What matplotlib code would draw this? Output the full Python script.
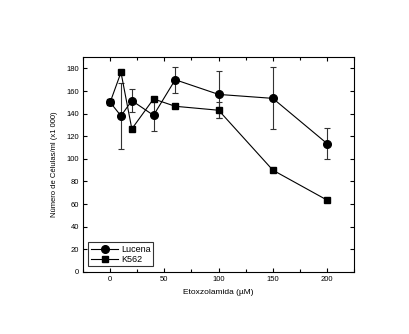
import matplotlib
matplotlib.use('Agg')
import matplotlib.pyplot as plt
from matplotlib.ticker import MultipleLocator

plt.rcParams['font.family'] = ['Liberation Sans', 'DejaVu Sans']

# concentrations (uM)
dose = [0, 10, 20, 40, 60, 100, 150, 200]

# cell counts (x1000)
lucena = [150, 138, 151.5, 138.5, 170, 157, 153.5, 113.5]
lucena_err = [0, 29, 10, 13.5, 11.5, 20.5, 27.5, 13.5]
k562 = [150, 176.5, 126.5, 153, 146.5, 143, 90, 63.5]
k562_err = [0, 0, 0, 0, 0, 7, 0, 0]

fig = plt.figure(figsize=(4.09, 3.34), dpi=100)
ax = fig.add_axes([0.203, 0.186, 0.663, 0.643])

# error bars first, then lines + markers on top
ax.errorbar(dose, lucena, yerr=lucena_err, fmt='none', ecolor='#333333',
            elinewidth=0.8, capsize=2, capthick=0.8)
ax.errorbar(dose, k562, yerr=k562_err, fmt='none', ecolor='#333333',
            elinewidth=0.8, capsize=2, capthick=0.8)
ax.plot(dose, lucena, color='k', marker='o', markersize=5.5, lw=0.8, label='Lucena')
ax.plot(dose, k562, color='k', marker='s', markersize=4.5, lw=0.8, label='K562')

ax.set_xlim(-25, 225)
ax.set_ylim(0, 190)
ax.xaxis.set_major_locator(MultipleLocator(50))
ax.xaxis.set_minor_locator(MultipleLocator(25))
ax.yaxis.set_major_locator(MultipleLocator(20))
ax.tick_params(which='both', direction='in', top=True, right=True, labelsize=5.5,
               width=0.8, pad=3)
ax.tick_params(which='major', length=3)
ax.tick_params(which='minor', length=2)
for s in ax.spines.values():
    s.set_linewidth(0.8)

ax.set_xlabel('Etoxzolamida (µM)', fontsize=6)
ax.set_ylabel('Número de Células/ml (x1 000)', fontsize=5.5, labelpad=6)

leg = ax.legend(loc='lower left', fontsize=6.5, frameon=True, fancybox=False,
                edgecolor='k', handlelength=3.0, handletextpad=0.3,
                borderaxespad=0.6, labelspacing=0.1, borderpad=0.3)
leg.get_frame().set_linewidth(0.8)

fig.savefig('out.png', dpi=100)
